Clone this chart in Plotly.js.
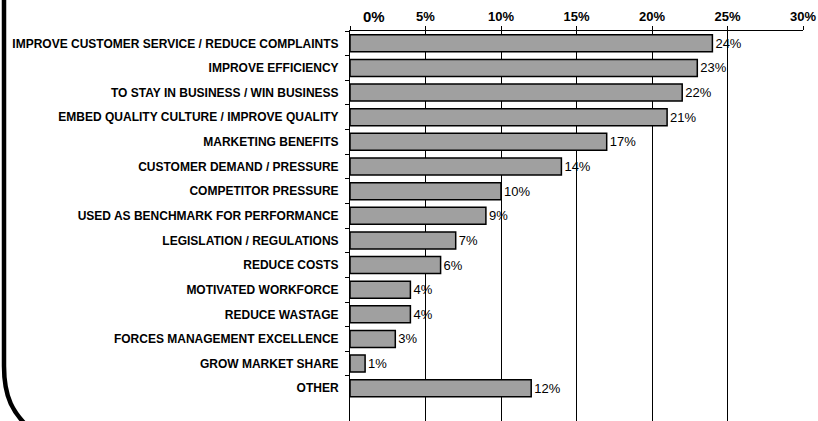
<!DOCTYPE html>
<html>
<head>
<meta charset="utf-8">
<script src="https://cdn.plot.ly/plotly-3.0.1.min.js"></script>
<style>
  html, body { margin: 0; padding: 0; background: #ffffff; }
  #chart { width: 818px; height: 421px; }
</style>
</head>
<body>
<div id="chart"></div>
<script>
// ---- data ----
const categories = [
  "IMPROVE CUSTOMER SERVICE / REDUCE COMPLAINTS",
  "IMPROVE EFFICIENCY",
  "TO STAY IN BUSINESS / WIN BUSINESS",
  "EMBED QUALITY CULTURE / IMPROVE QUALITY",
  "MARKETING BENEFITS",
  "CUSTOMER DEMAND / PRESSURE",
  "COMPETITOR PRESSURE",
  "USED AS BENCHMARK FOR PERFORMANCE",
  "LEGISLATION / REGULATIONS",
  "REDUCE COSTS",
  "MOTIVATED WORKFORCE",
  "REDUCE WASTAGE",
  "FORCES MANAGEMENT EXCELLENCE",
  "GROW MARKET SHARE",
  "OTHER"
];
const values = [24, 23, 22, 21, 17, 14, 10, 9, 7, 6, 4, 4, 3, 1, 12];
const tickValues = [0, 5, 10, 15, 20, 25, 30];
const tickLabels = ["", "5%", "10%", "15%", "20%", "25%", "30%"];
const zeroLabel = "0%";

// ---- layout geometry ----
const W = 818, H = 421;
const M = { l: 350, r: 15, t: 31, b: 0 };
const PW = W - M.l - M.r, PH = H - M.t - M.b;
const px = x => (x - M.l) / PW;
const py = y => (H - M.b - y) / PH;

const FONT = "Liberation Sans, Arial, sans-serif";

const curve = `M ${px(4)},${py(-10)} L ${px(4)},${py(366)} C ${px(4)},${py(398)} ${px(13)},${py(413)} ${px(31)},${py(430)}`;

const trace = {
  type: "bar",
  orientation: "h",
  y: categories,
  x: values,
  width: 0.69,
  marker: { color: "#a0a0a0", line: { color: "#000000", width: 1.5 } },
  text: values.map(v => v + "%"),
  textposition: "outside",
  textfont: { family: FONT, size: 13, color: "#000000" },
  cliponaxis: false,
  hoverinfo: "none"
};

const layout = {
  width: W, height: H,
  margin: M,
  paper_bgcolor: "#ffffff",
  plot_bgcolor: "#ffffff",
  showlegend: false,
  font: { family: FONT, color: "#000000" },
  xaxis: {
    side: "top",
    range: [0, 30],
    tickmode: "array",
    tickvals: tickValues,
    ticktext: tickLabels,
    tickfont: { family: FONT, size: 13, weight: "bold", color: "#000000" },
    showgrid: true,
    gridcolor: "#000000",
    gridwidth: 1,
    showline: true,
    linecolor: "#000000",
    linewidth: 1,
    ticks: "outside",
    ticklen: 4,
    tickcolor: "#000000",
    zeroline: false,
    fixedrange: true
  },
  yaxis: {
    type: "category",
    range: [15.33, -0.5],
    tickfont: { family: FONT, size: 12, weight: "bold", color: "#000000" },
    showgrid: false,
    showline: true,
    linecolor: "#000000",
    linewidth: 1,
    ticks: "outside",
    tickson: "boundaries",
    ticklen: 4,
    tickcolor: "#000000",
    ticklabelstandoff: 8,
    zeroline: false,
    fixedrange: true
  },
  annotations: [{
    text: zeroLabel,
    xref: "x", x: 0, xanchor: "left", xshift: 11,
    yref: "paper", y: py(16.5), yanchor: "middle",
    showarrow: false,
    font: { family: FONT, size: 15, weight: "bold", color: "#000000" }
  }],
  shapes: [{
    type: "path",
    xref: "paper", yref: "paper",
    path: curve,
    line: { color: "#000000", width: 4.5 },
    layer: "above"
  }]
};

Plotly.newPlot("chart", [trace], layout, { displayModeBar: false, staticPlot: true });
</script>
</body>
</html>
